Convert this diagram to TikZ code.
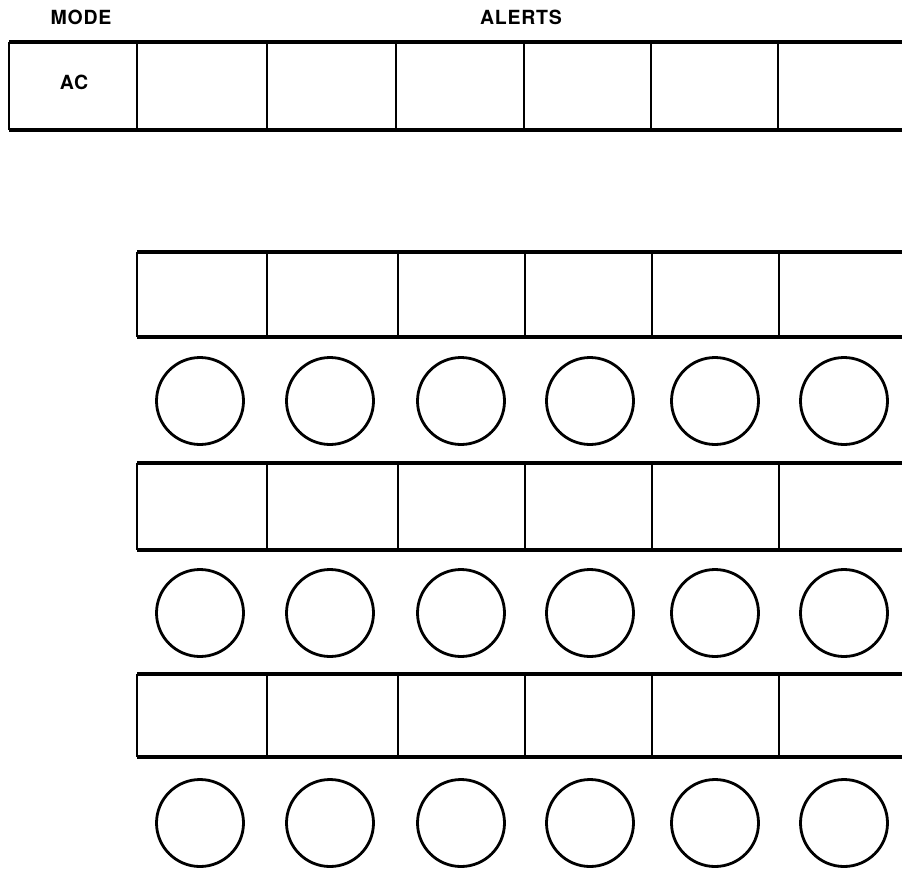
\documentclass[tikz,border=0pt]{standalone}
\usepackage{fontspec}
\setmainfont{TeX Gyre Heros}
\newfontfamily\lblfont[LetterSpace=4]{TeX Gyre Heros}
\begin{document}
\begin{tikzpicture}[x=1pt,y=-1pt,
  hline/.style={line width=3.4pt},
  vline/.style={line width=2.4pt},
  lamp/.style={draw,circle,line width=2.8pt,minimum size=87pt,inner sep=0pt},
  lbl/.style={font=\lblfont\bfseries\fontsize{19.5}{22}\selectfont,inner sep=0pt,anchor=base}]
\useasboundingbox (0,0) rectangle (902,868);
% header labels
\node[lbl] (mode) at (81,24.5) {MODE};
\node[lbl] (alerts) at (521,24.5) {ALERTS};
% top row
\draw[hline] (9,42) -- (902,42);
\draw[hline] (9,130) -- (902,130);
\foreach \x in {9,137,267,396,524,651,778}{
  \draw[vline] (\x,42) -- (\x,130);
}
\node[lbl] (ac) at (74,89.5) {AC};
% lower rows
\foreach \t/\b/\cy [count=\r] in {252/337/401, 463/550/613, 674/757/823}{
  \draw[hline] (137,\t) -- (902,\t);
  \draw[hline] (137,\b) -- (902,\b);
  \foreach \x in {137,267,398,525,652,779}{
    \draw[vline] (\x,\t) -- (\x,\b);
  }
  \foreach \cx [count=\c] in {200,330,461,590,715,844}{
    \node[lamp] (l\r\c) at (\cx,\cy) {};
  }
}
\end{tikzpicture}
\end{document}
